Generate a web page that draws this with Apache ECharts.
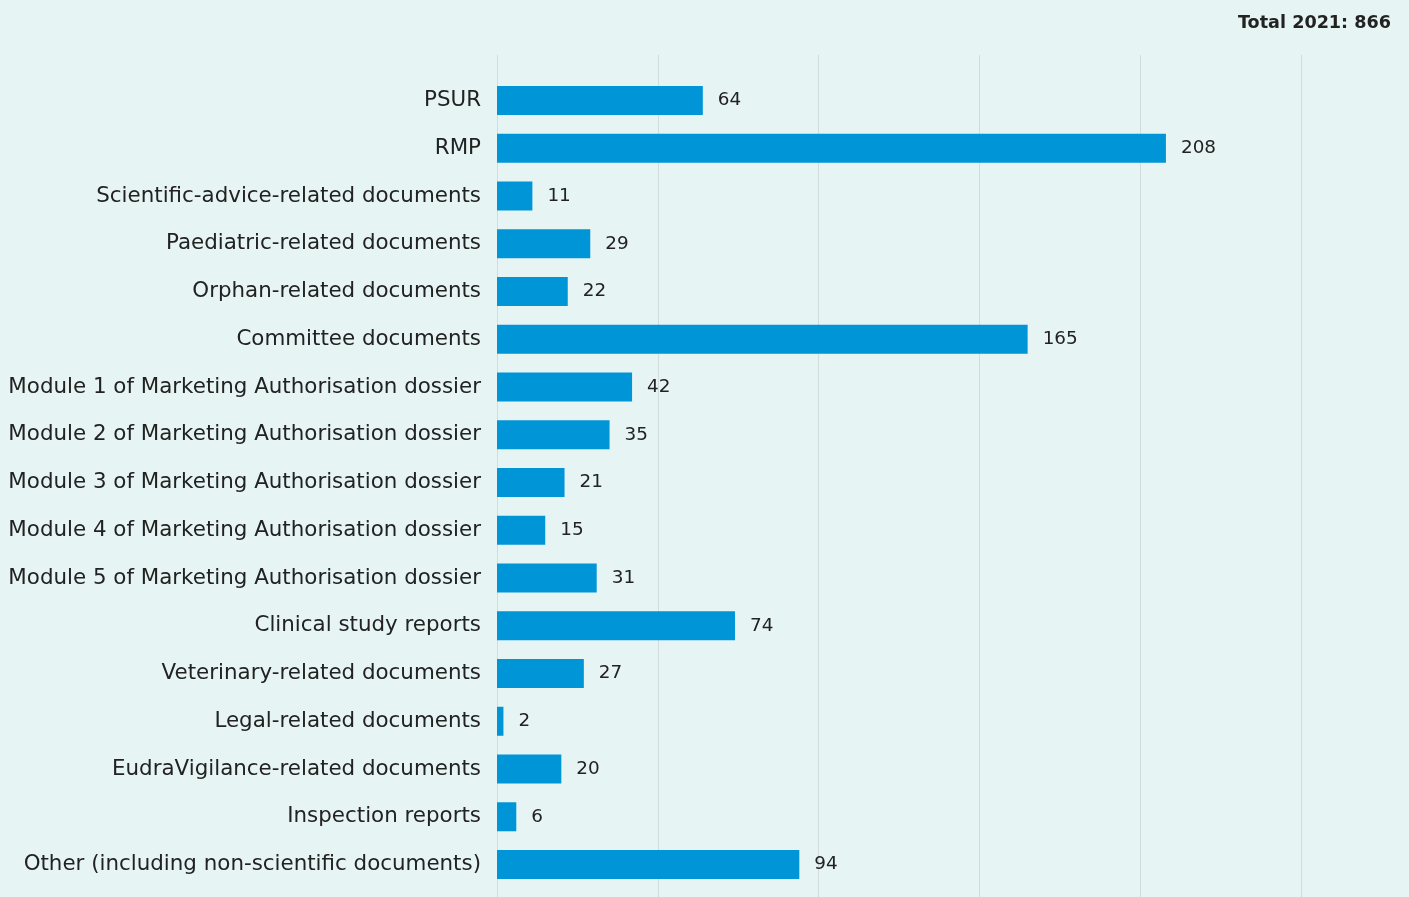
<!DOCTYPE html>
<html>
<head>
<meta charset="utf-8">
<script src="https://cdn.jsdelivr.net/npm/echarts@6/dist/echarts.min.js"></script>
<style>
html,body{margin:0;padding:0;background:#e6f5f4;}
#chart{width:1409px;height:897px;}
</style>
</head>
<body>
<div id="chart"></div>
<script>
const categories = [
  'PSUR',
  'RMP',
  'Scientific-advice-related documents',
  'Paediatric-related documents',
  'Orphan-related documents',
  'Committee documents',
  'Module 1 of Marketing Authorisation dossier',
  'Module 2 of Marketing Authorisation dossier',
  'Module 3 of Marketing Authorisation dossier',
  'Module 4 of Marketing Authorisation dossier',
  'Module 5 of Marketing Authorisation dossier',
  'Clinical study reports',
  'Veterinary-related documents',
  'Legal-related documents',
  'EudraVigilance-related documents',
  'Inspection reports',
  'Other (including non-scientific documents)'
];
const values = [64, 208, 11, 29, 22, 165, 42, 35, 21, 15, 31, 74, 27, 2, 20, 6, 94];
const titleText = 'Total 2021: 866';

const chart = echarts.init(document.getElementById('chart'));
chart.setOption({
  backgroundColor: '#e6f5f4',
  animation: false,
  title: {
    text: titleText,
    right: 18,
    top: 14,
    padding: 0,
    textStyle: {fontFamily: 'DejaVu Sans', fontWeight: 'bold', fontSize: 17.6, color: '#222'}
  },
  grid: [
    {left: 497, right: 108, top: 76.6, bottom: 8.6, containLabel: false},
    {left: 497, right: 108, top: 55, bottom: 0, containLabel: false}
  ],
  xAxis: [
    {gridIndex: 0, type: 'value', min: 0, max: 250, interval: 50, show: false, splitLine: {show: false}},
    {gridIndex: 1, type: 'value', min: 0, max: 250, interval: 50,
     axisLabel: {show: false}, axisTick: {show: false}, axisLine: {show: false},
     splitLine: {show: true, lineStyle: {color: '#d2dcdc', width: 1}}}
  ],
  yAxis: [
    {gridIndex: 0, type: 'category', data: categories, inverse: true,
     axisTick: {show: false}, axisLine: {show: false},
     axisLabel: {fontFamily: 'DejaVu Sans', fontSize: 21.4, color: '#222', margin: 16, padding: [6, 0, 0, 0]}},
    {gridIndex: 1, type: 'value', show: false}
  ],
  series: [{
    type: 'bar',
    xAxisIndex: 0, yAxisIndex: 0,
    data: values,
    barWidth: 29,
    itemStyle: {color: '#0095d7'},
    label: {show: true, position: 'right', distance: 15, padding: [6, 0, 0, 0],
            fontFamily: 'DejaVu Sans', fontSize: 18.4, color: '#222'}
  }]
});
</script>
</body>
</html>
